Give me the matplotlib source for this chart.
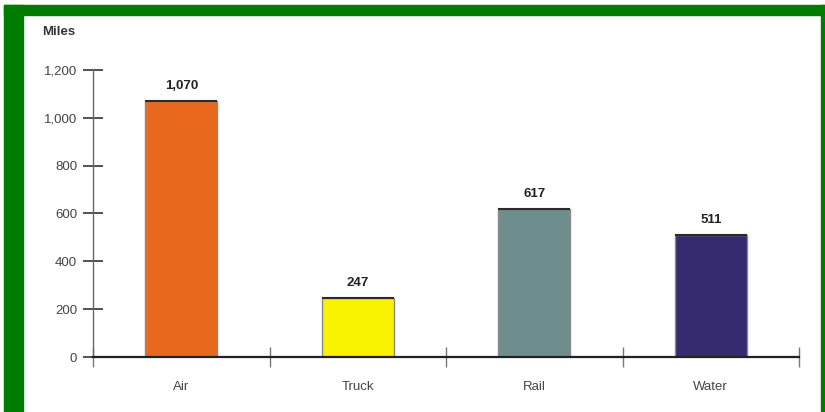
import matplotlib
matplotlib.use("Agg")
import matplotlib.pyplot as plt
from matplotlib.patches import Rectangle

modes = ["Air", "Truck", "Rail", "Water"]
miles = [1070, 247, 617, 511]
bar_colors = ["#E8691E", "#F9F200", "#6E8E8E", "#372B70"]
yticks = [0, 200, 400, 600, 800, 1000, 1200]

plt.rcParams["font.family"] = ["Liberation Sans", "DejaVu Sans"]

fig = plt.figure(figsize=(8.25, 4.12), dpi=100)
W, H = 825.0, 412.0

# green frame (cut off at the bottom)
green = "#007D00"
fig.patches.append(Rectangle((4 / W, 0), 19 / W, 1 - 5 / H, transform=fig.transFigure, color=green, zorder=0))
fig.patches.append(Rectangle((4 / W, 1 - 15 / H), 821 / W, 10 / H, transform=fig.transFigure, color=green, zorder=0))
fig.patches.append(Rectangle((821 / W, 0), 4 / W, 1 - 5 / H, transform=fig.transFigure, color=green, zorder=0))

ax = fig.add_axes([93 / W, 1 - 357 / H, 706 / W, 287 / H])

x = [i + 0.5 for i in range(len(modes))]
bars = ax.bar(x, miles, width=0.41, color=bar_colors, edgecolor="#8a8a8a", linewidth=1, zorder=2)
ax.hlines(miles, [xi - 0.205 for xi in x], [xi + 0.205 for xi in x], colors="#2a2a2a", linewidth=1.5, zorder=3)

for xi, v in zip(x, miles):
    ax.text(xi, v + 38, "{:,}".format(v), ha="center", va="bottom", fontsize=9.5,
            fontweight="bold", color="#222222")

ax.set_xlim(0, len(modes))
ax.set_ylim(0, 1200)

ax.set_xticks(range(len(modes) + 1))
ax.set_xticklabels([])
ax.set_xticks(x, minor=True)
ax.set_xticklabels(modes, minor=True, fontsize=9.5, color="#444444")
ax.tick_params(axis="x", which="major", direction="inout", length=14, width=1, color="#777777")
ax.tick_params(axis="x", which="minor", length=0, pad=17)

ax.set_yticks(yticks)
ax.set_yticklabels(["{:,}".format(t) for t in yticks], fontsize=9.5, color="#444444")
ax.tick_params(axis="y", direction="inout", length=15, width=1.2, color="#333333", pad=4)

for s in ["top", "right"]:
    ax.spines[s].set_visible(False)
ax.spines["left"].set_color("#666666")
ax.spines["left"].set_linewidth(1)
ax.spines["bottom"].set_color("#222222")
ax.spines["bottom"].set_linewidth(1.6)

fig.text(42 / W, 1 - 32 / H, "Miles", fontsize=9.5, fontweight="bold", color="#333333", va="center", ha="left")

fig.savefig("out.png", dpi=100)
